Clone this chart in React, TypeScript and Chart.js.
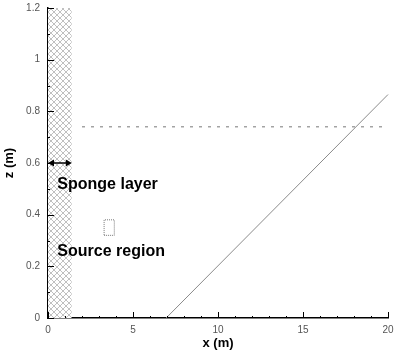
import React, { useEffect, useRef } from "react";
import { Chart, registerables } from "chart.js";

Chart.register(...registerables);

const xTicks = [0, 5, 10, 15, 20];
const xTickLabels = ["0", "5", "10", "15", "20"];
const yTicks = [0, 0.2, 0.4, 0.6, 0.8, 1, 1.2];
const yTickLabels = ["0", "0.2", "0.4", "0.6", "0.8", "1", "1.2"];
const xMinorStep = 1;
const yMinorStep = 0.1;

const spongeX = [0, 1.4];
const spongeTop = 1.2;
const waterLevel = 0.74;
const waterX = [2, 20];
const slopeX = [6.95, 20];
const slopeZ = [0, 0.865];
const sourceX = [3.3, 3.9];
const sourceZ = [0.32, 0.38];
const arrowZ = 0.6;
const labels = [
  { text: "Sponge layer", x: 0.55, z: 0.515 },
  { text: "Source region", x: 0.55, z: 0.258 },
];

function makePattern(): CanvasPattern | string {
  const c = document.createElement("canvas");
  c.width = 6;
  c.height = 6;
  const g = c.getContext("2d");
  if (!g) return "#ccc";
  g.fillStyle = "#ffffff";
  g.fillRect(0, 0, 6, 6);
  g.strokeStyle = "#b0b0b0";
  g.lineWidth = 0.8;
  g.beginPath();
  g.moveTo(0, 0);
  g.lineTo(6, 6);
  g.moveTo(6, 0);
  g.lineTo(0, 6);
  g.stroke();
  const p = g.createPattern(c, "repeat");
  return p || "#ccc";
}

const overlayPlugin = {
  id: "overlay",
  afterDatasetsDraw(chart: any) {
    const { ctx, scales } = chart;
    const xs = scales.x;
    const ys = scales.y;
    const x0 = xs.getPixelForValue(0);
    const y0 = ys.getPixelForValue(0);
    ctx.save();
    ctx.strokeStyle = "#000";
    ctx.lineWidth = 1;
    ctx.beginPath();
    for (let v = 0; v <= 20 + 1e-9; v += xMinorStep) {
      const px = Math.round(xs.getPixelForValue(v)) + 0.5;
      const major = xTicks.some((t) => Math.abs(t - v) < 1e-6);
      ctx.moveTo(px, y0);
      ctx.lineTo(px, y0 - (major ? 6 : 2));
    }
    for (let v = 0; v <= 1.2 + 1e-9; v += yMinorStep) {
      const py = Math.round(ys.getPixelForValue(v)) + 0.5;
      const major = yTicks.some((t) => Math.abs(t - v) < 1e-6);
      ctx.moveTo(x0, py);
      ctx.lineTo(x0 + (major ? 6 : 2), py);
    }
    ctx.stroke();

    const ay = ys.getPixelForValue(arrowZ);
    const ax1 = xs.getPixelForValue(spongeX[0]);
    const ax2 = xs.getPixelForValue(spongeX[1]);
    ctx.fillStyle = "#000";
    ctx.lineWidth = 1.5;
    ctx.beginPath();
    ctx.moveTo(ax1 + 3, ay);
    ctx.lineTo(ax2 - 3, ay);
    ctx.stroke();
    ctx.beginPath();
    ctx.moveTo(ax1, ay);
    ctx.lineTo(ax1 + 6, ay - 3.5);
    ctx.lineTo(ax1 + 6, ay + 3.5);
    ctx.closePath();
    ctx.moveTo(ax2, ay);
    ctx.lineTo(ax2 - 6, ay - 3.5);
    ctx.lineTo(ax2 - 6, ay + 3.5);
    ctx.closePath();
    ctx.fill();

    ctx.font = "bold 16px 'Liberation Sans', Arial, sans-serif";
    ctx.textBaseline = "middle";
    ctx.textAlign = "left";
    ctx.fillStyle = "#000";
    for (const l of labels) {
      ctx.fillText(l.text, xs.getPixelForValue(l.x), ys.getPixelForValue(l.z));
    }
    ctx.restore();
  },
};

export default function App() {
  const ref = useRef<HTMLCanvasElement | null>(null);
  useEffect(() => {
    if (!ref.current) return;
    const pattern = makePattern();
    const chart = new Chart(ref.current, {
      type: "scatter",
      data: {
        datasets: [
          {
            data: [
              { x: spongeX[0], y: spongeTop },
              { x: spongeX[1], y: spongeTop },
            ],
            showLine: true,
            fill: "origin",
            backgroundColor: pattern as any,
            borderWidth: 0,
            borderColor: "rgba(0,0,0,0)",
            pointRadius: 0,
          },
          {
            data: [
              { x: waterX[0], y: waterLevel },
              { x: waterX[1], y: waterLevel },
            ],
            showLine: true,
            borderColor: "#777",
            borderWidth: 1,
            borderDash: [3, 6],
            pointRadius: 0,
          },
          {
            data: [
              { x: slopeX[0], y: slopeZ[0] },
              { x: slopeX[1], y: slopeZ[1] },
            ],
            showLine: true,
            borderColor: "#8a8a8a",
            borderWidth: 1,
            pointRadius: 0,
          },
          {
            data: [
              { x: sourceX[0], y: sourceZ[0] },
              { x: sourceX[1], y: sourceZ[0] },
              { x: sourceX[1], y: sourceZ[1] },
              { x: sourceX[0], y: sourceZ[1] },
              { x: sourceX[0], y: sourceZ[0] },
            ],
            showLine: true,
            borderColor: "#777",
            borderWidth: 1,
            borderDash: [1, 1],
            pointRadius: 0,
          },
        ],
      },
      options: {
        responsive: false,
        animation: false,
        clip: false,
        layout: { padding: { left: 0, right: 7, top: 8, bottom: 0 } },
        plugins: {
          legend: { display: false },
          tooltip: { enabled: false },
        },
        scales: {
          x: {
            type: "linear",
            min: 0,
            max: 20,
            afterBuildTicks: (s: any) => {
              s.ticks = xTicks.map((v) => ({ value: v }));
            },
            afterFit: (s: any) => {
              s.height = 37;
              s.paddingLeft = 0;
              s.paddingRight = 0;
            },
            grid: { display: false, drawTicks: false },
            border: { display: true, color: "#000", width: 1.5 },
            ticks: {
              padding: 6,
              color: "#555",
              font: { family: "'Liberation Sans', Arial, sans-serif", size: 10 },
              maxRotation: 0,
              callback: (_v: any, i: number) => xTickLabels[i],
            },
            title: {
              display: true,
              text: "x (m)",
              color: "#000",
              font: { family: "'Liberation Sans', Arial, sans-serif", size: 13, weight: "bold" },
              padding: { top: 0, bottom: 4 },
            },
          },
          y: {
            type: "linear",
            min: 0,
            max: 1.2,
            afterBuildTicks: (s: any) => {
              s.ticks = yTicks.map((v) => ({ value: v }));
            },
            afterFit: (s: any) => {
              s.width = 48;
              s.paddingTop = 0;
              s.paddingBottom = 0;
            },
            grid: { display: false, drawTicks: false },
            border: { display: true, color: "#000", width: 1.5 },
            ticks: {
              padding: 8,
              color: "#555",
              font: { family: "'Liberation Sans', Arial, sans-serif", size: 10 },
              callback: (_v: any, i: number) => yTickLabels[i],
            },
            title: {
              display: true,
              text: "z (m)",
              color: "#000",
              font: { family: "'Liberation Sans', Arial, sans-serif", size: 13, weight: "bold" },
              padding: { top: 2, bottom: 0 },
            },
          },
        },
      } as any,
      plugins: [overlayPlugin],
    });
    return () => chart.destroy();
  }, []);
  return (
    <div style={{ position: "fixed", left: 0, top: 0, width: 395, height: 355, background: "#fff" }}>
      <canvas ref={ref} width={395} height={355} style={{ display: "block" }} />
    </div>
  );
}
